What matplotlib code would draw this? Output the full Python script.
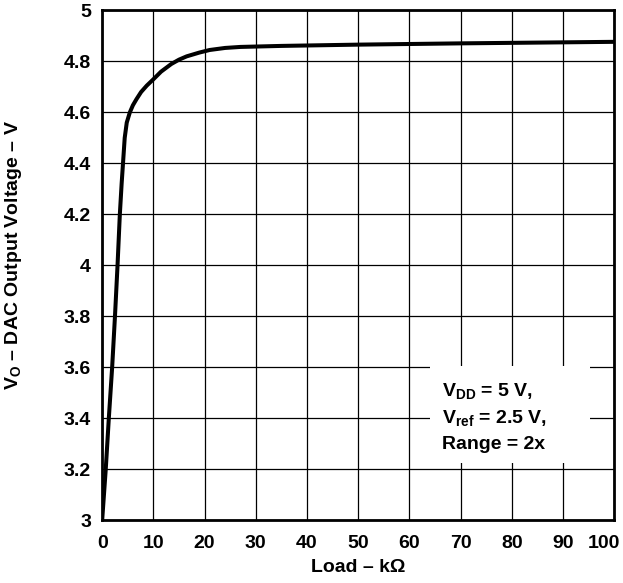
import matplotlib
matplotlib.use("Agg")
import matplotlib.pyplot as plt
from matplotlib.patches import Rectangle
from matplotlib.transforms import ScaledTranslation

# === Data ===
load_kohm = [0, 0.7, 1.3, 1.95, 2.5, 3.0, 3.45, 3.8, 4.1, 4.4, 4.8, 5.4, 6.0,
             6.7, 7.6, 8.7, 10, 11.5, 13.5, 15, 16.5, 19, 21, 24, 27, 35,
             50, 70, 100]
vout = [3.0, 3.2, 3.4, 3.6, 3.8, 4.0, 4.2, 4.32, 4.41, 4.5, 4.56, 4.60, 4.628,
        4.652, 4.68, 4.705, 4.73, 4.76, 4.79, 4.807, 4.82, 4.835, 4.845,
        4.853, 4.857, 4.861, 4.866, 4.871, 4.877]

x_ticks = [0, 10, 20, 30, 40, 50, 60, 70, 80, 90, 100]
y_ticks = [3, 3.2, 3.4, 3.6, 3.8, 4, 4.2, 4.4, 4.6, 4.8, 5]
y_tick_labels = ["3", "3.2", "3.4", "3.6", "3.8", "4", "4.2", "4.4", "4.6", "4.8", "5"]

note_lines = ["V$_{\\rm DD}$ = 5 V,", "V$_{\\rm ref}$ = 2.5 V,", "Range = 2x"]

plt.rcParams["font.family"] = ["Liberation Sans", "DejaVu Sans"]
plt.rcParams["font.weight"] = "bold"
plt.rcParams["mathtext.fontset"] = "custom"
plt.rcParams["mathtext.rm"] = "Liberation Sans:bold"
plt.rcParams["mathtext.it"] = "Liberation Sans:bold"
plt.rcParams["mathtext.bf"] = "Liberation Sans:bold"

fig = plt.figure(figsize=(6.23, 5.83), dpi=100)
ax = fig.add_axes([0.164, 0.108, 0.822, 0.874])

ax.plot(load_kohm, vout, color="black", lw=2.9, solid_joinstyle="round", zorder=4)

ax.set_xlim(0, 100)
ax.set_ylim(3, 5)
ax.set_xticks(x_ticks)
ax.set_yticks(y_ticks)
ax.set_yticklabels(y_tick_labels)
ax.tick_params(axis="both", length=0, labelsize=14)
ax.tick_params(axis="x", pad=11)
ax.tick_params(axis="y", pad=8)
for lbl in ax.get_xticklabels() + ax.get_yticklabels():
    lbl.set_fontweight("bold")
# keep "100" inside the picture like the original
last = ax.get_xticklabels()[-1]
last.set_horizontalalignment("right")
last.set_transform(last.get_transform() + ScaledTranslation(4 / 72, 0, fig.dpi_scale_trans))

ax.grid(True, color="black", lw=0.9)
ax.set_axisbelow(True)
for s in ax.spines.values():
    s.set_linewidth(2)

# white box behind the conditions note
ax.add_patch(Rectangle((0.64, 0.112), 0.3125, 0.19, transform=ax.transAxes,
                       facecolor="white", edgecolor="none", zorder=2))
for i, line in enumerate(note_lines):
    ax.text(0.664, 0.253 - i * 0.052, line, transform=ax.transAxes,
            fontsize=14, fontweight="bold", ha="left", va="center", zorder=5)

ax.set_xlabel("Load – kΩ", fontsize=14, fontweight="bold", labelpad=5)
ax.set_ylabel("V$_{\\rm O}$ – DAC Output Voltage – V", fontsize=14, fontweight="bold")
ax.yaxis.set_label_coords(-0.152, 0.52)

fig.savefig("out.png", dpi=100)
